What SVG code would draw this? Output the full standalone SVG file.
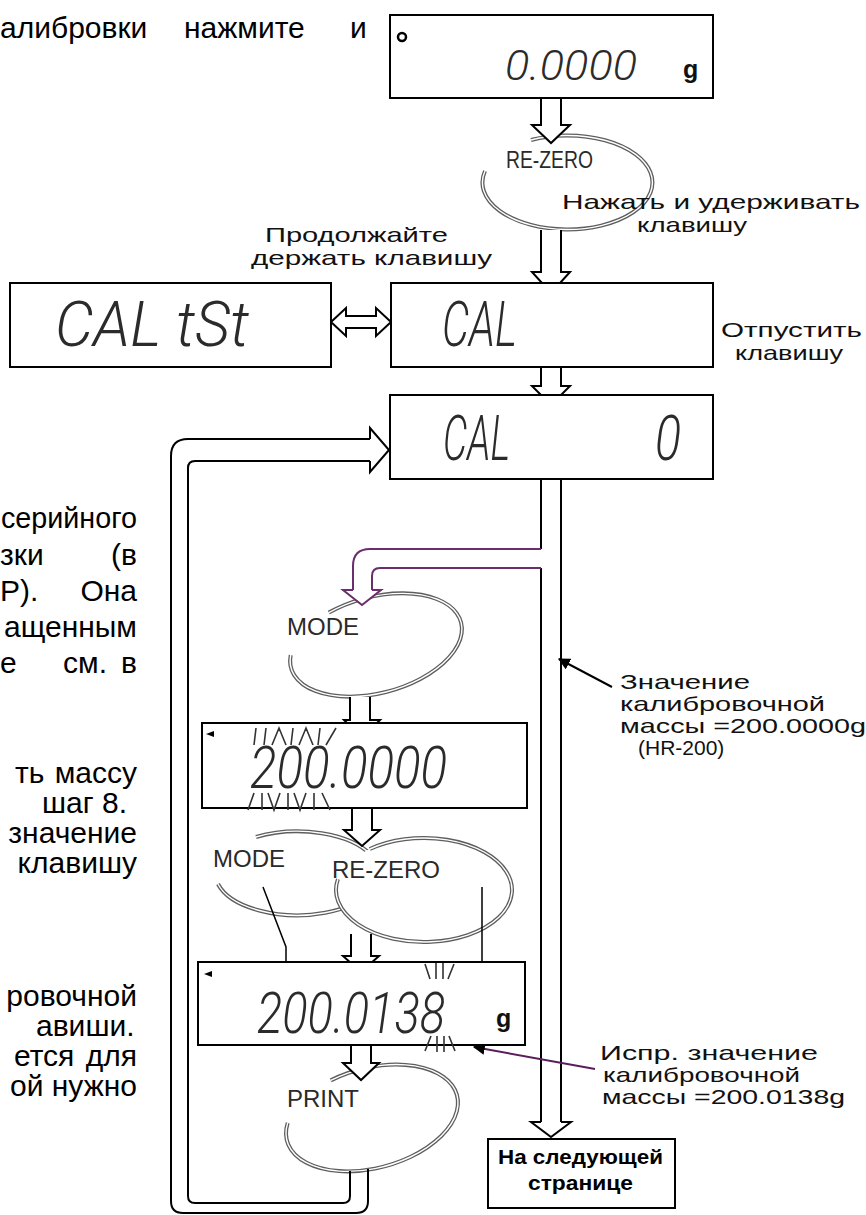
<svg xmlns="http://www.w3.org/2000/svg" width="866" height="1215" viewBox="0 0 866 1215">
<style>
.body{font-family:"Liberation Sans",Arial,sans-serif;font-size:30px;fill:#000}
.lbl{font-family:"Liberation Sans",Arial,sans-serif;font-size:21px;fill:#111}
.key{font-family:"Liberation Sans",Arial,sans-serif;font-size:24px;fill:#2a2a2a}
.seg{font-family:Roboto,"Liberation Sans",sans-serif;font-style:italic;font-weight:300;fill:#2b2b2b}
.unit{font-family:"Liberation Sans",Arial,sans-serif;font-weight:bold;font-size:25px;fill:#111}
.nxt{font-family:"Liberation Sans",Arial,sans-serif;font-weight:bold;font-size:20px;fill:#000}
.box{fill:#fff;stroke:#000;stroke-width:2}
.harrow{fill:#fff;stroke:#000;stroke-width:2;stroke-linejoin:miter}
.parrow{fill:#fff;stroke:#6b2d6b;stroke-width:2;stroke-linejoin:miter}
.dl{fill:none;stroke:#000;stroke-width:2}
.pl{fill:none;stroke:#6b2d6b;stroke-width:2}
.ring{fill:none;stroke:#5e5e5e;stroke-width:4}
.ringi{fill:none;stroke:#fff;stroke-width:1.4}
.thin{fill:none;stroke:#000;stroke-width:1.5}
.blink{fill:none;stroke:#333;stroke-width:1.6}
</style>
<defs>
<marker id="ahp" viewBox="0 0 10 10" refX="9" refY="5" markerWidth="6" markerHeight="6" orient="auto"><path d="M0,0 L10,5 L0,10 z" fill="#000"/></marker>
<marker id="sm" viewBox="0 0 10 10" refX="9" refY="5" markerWidth="5" markerHeight="5" orient="auto-start-reverse"><path d="M0,1 L10,5 L0,9 z" fill="#000"/></marker>
<path id="rz1" d="M531,140 A85,47 0 1 1 485,171"/>
<path id="md1" d="M-37.2,-43.5 A88,48 0 1 1 -85,-12.4"/>
<path id="md2" d="M256,837 A82,42 0 1 1 218,884"/>
<path id="rz2" d="M369.8,849 A88,52 0 1 1 337.9,879.2"/>
<path id="pr" d="M-30.1,-47 A88,50 0 1 1 -82.7,-17.1"/>
</defs>

<g id="left-text" class="body">
<text x="0" y="38">алибровки</text>
<text x="184" y="38">нажмите</text>
<text x="350" y="38">и</text>
<text x="1" y="528" textLength="136" lengthAdjust="spacingAndGlyphs">серийного</text>
<text x="0" y="565">зки</text><text x="137" y="565" text-anchor="end">(в</text>
<text x="0" y="601">Р).</text><text x="137" y="601" text-anchor="end">Она</text>
<text x="137" y="637" text-anchor="end">ащенным</text>
<text x="0" y="673">е</text><text x="63" y="673">см.</text><text x="137" y="673" text-anchor="end">в</text>
<text x="15" y="783">ть</text><text x="137" y="783" text-anchor="end">массу</text>
<text x="42" y="813">шаг 8.</text>
<text x="137" y="843" text-anchor="end">значение</text>
<text x="137" y="873" text-anchor="end">клавишу</text>
<text x="137" y="1006" text-anchor="end">ровочной</text>
<text x="36" y="1036">авиши.</text>
<text x="14" y="1066">ется</text><text x="137" y="1066" text-anchor="end">для</text>
<text x="10" y="1096">ой</text><text x="137" y="1096" text-anchor="end">нужно</text>
</g>

<g id="rings">
<use href="#rz1" class="ring"/><use href="#rz1" class="ringi"/>
<g transform="translate(376,645) rotate(-15)"><use href="#md1" class="ring"/><use href="#md1" class="ringi"/></g>
<use href="#md2" class="ring"/><use href="#md2" class="ringi"/>
<ellipse cx="424" cy="890" rx="88" ry="52" fill="#fff"/>
<use href="#rz2" class="ring"/><use href="#rz2" class="ringi"/>
<g transform="translate(372,1118) rotate(-15)"><use href="#pr" class="ring"/><use href="#pr" class="ringi"/></g>
</g>

<g id="connectors">
<path class="harrow" d="M541,98 V125 H532 L551,143 L570,125 H561 V98"/>
<path class="harrow" d="M541,230 V272 H532 L551,293 L570,272 H561 V230"/>
<path class="harrow" d="M331,322 L346,308 V316 H376 V308 L391,322 L376,336 V328 H346 V336 Z"/>
<path class="harrow" d="M541,367 V386 H532 L551,405 L570,386 H561 V367"/>
<path class="dl" d="M541,479 V549 M541,568 V1122 M561,479 V1122"/>
<path class="harrow" d="M541,1122 H531 L551,1137 L571,1122 H561"/>
<path class="pl" d="M541,549 H370 Q353,549 353,566 V590 M541,568 H380 Q372,568 372,576 V590"/>
<path class="parrow" d="M353,590 H343 L362,605 L381,590 H372"/>
<path class="harrow" d="M350,697 V720 H344 L362,738 L380,720 H370 V697"/>
<path class="harrow" d="M352,808 V830 H344 L362,846 L380,830 H372 V808"/>
<path class="harrow" d="M351,934 V956 H343 L361,972 L379,956 H371 V934"/>
<path class="harrow" d="M351,1045 V1063 H343 L361,1080 L379,1063 H371 V1045"/>
<path class="dl" d="M368,1169 V1201 Q368,1213 356,1213 H183 Q171,1213 171,1201 V456 Q171,439 188,439 H370"/>
<path class="dl" d="M350,1171 V1196 Q350,1203 343,1203 H195 Q188,1203 188,1196 V468 Q188,461 195,461 H370"/>
<path class="harrow" d="M370,439 V428 L389,450 L370,472 V461"/>
<path class="thin" d="M263,887 L286,947 V972"/>
<path class="thin" d="M257,972 H314" marker-start="url(#sm)" marker-end="url(#sm)"/>
<path class="thin" d="M482,887 V1002 H462"/>
<path class="thin" d="M462,980 V1030" marker-start="url(#sm)" marker-end="url(#sm)"/>
<path d="M612,687 L559,659" fill="none" stroke="#000" stroke-width="2" marker-end="url(#ahp)"/>
<path d="M595,1069 L474,1047" fill="none" stroke="#5a1e5a" stroke-width="2" marker-end="url(#ahp)"/>
</g>

<g id="n-zero">
<rect class="box" x="390" y="15" width="323" height="83"/>
<circle cx="402" cy="37" r="4" fill="none" stroke="#000" stroke-width="2.5"/>
<text class="seg" x="505" y="80" font-size="42" textLength="132" lengthAdjust="spacingAndGlyphs">0.0000</text>
<text class="unit" x="683" y="78">g</text>
</g>

<g id="n-caltst">
<rect class="box" x="10" y="283" width="321" height="84"/>
<text class="seg" x="55" y="346" font-size="62" textLength="194" lengthAdjust="spacingAndGlyphs">CAL tSt</text>
</g>

<g id="n-cal">
<rect class="box" x="391" y="283" width="322" height="84"/>
<text class="seg" x="442" y="346" font-size="62" textLength="75" lengthAdjust="spacingAndGlyphs">CAL</text>
</g>

<g id="n-cal0">
<rect class="box" x="390" y="395" width="323" height="84"/>
<text class="seg" x="443" y="460" font-size="62" textLength="67" lengthAdjust="spacingAndGlyphs">CAL</text>
<text class="seg" x="655" y="460" font-size="62" textLength="26" lengthAdjust="spacingAndGlyphs">0</text>
</g>

<g id="n-mass">
<rect class="box" x="202" y="723" width="325" height="85"/>
<path d="M214,731 L206,734 L214,737 Z" fill="#000"/>
<path class="blink" d="M256,728 L254,745 M266,728 L264,745 M272,745 L279,728 L286,745 M293,728 L291,745 M299,745 L306,728 L313,745 M320,728 L318,745 M326,745 L336,728"/>
<text class="seg" x="250" y="788" font-size="60" textLength="197" lengthAdjust="spacingAndGlyphs">200.0000</text>
<path class="blink" d="M254,793 L248,810 M262,793 L262,810 M268,793 L274,810 L280,793 M288,793 L288,810 M294,793 L300,810 L306,793 M314,793 L314,810 M322,793 L330,810"/>
</g>

<g id="n-corr">
<rect class="box" x="198" y="962" width="327" height="83"/>
<path d="M212,971 L204,974 L212,977 Z" fill="#000"/>
<path class="blink" d="M425,964 L430,979 M436,963 L436,979 M443,963 L443,979 M454,964 L448,979 M425,1051 L431,1036 M437,1052 L437,1036 M444,1052 L444,1036 M455,1051 L449,1036"/>
<text class="seg" x="257" y="1033" font-size="58" textLength="188" lengthAdjust="spacingAndGlyphs">200.0138</text>
<text class="unit" x="496" y="1027">g</text>
</g>

<g id="n-next">
<rect class="box" x="488" y="1139" width="187" height="69"/>
<text class="nxt" x="498" y="1164" textLength="165" lengthAdjust="spacingAndGlyphs">На следующей</text>
<text class="nxt" x="528" y="1190" textLength="105" lengthAdjust="spacingAndGlyphs">странице</text>
</g>

<g id="keys">
<text class="key" x="506" y="168" font-size="21" textLength="87" lengthAdjust="spacingAndGlyphs">RE-ZERO</text>
<text class="key" x="287" y="635">MODE</text>
<text class="key" x="213" y="867">MODE</text>
<text class="key" x="332" y="878">RE-ZERO</text>
<text class="key" x="287" y="1107">PRINT</text>
</g>

<g id="labels" class="lbl">
<text x="562" y="209" textLength="298" lengthAdjust="spacingAndGlyphs">Нажать и удерживать</text>
<text x="637" y="232" textLength="110" lengthAdjust="spacingAndGlyphs">клавишу</text>
<text x="265" y="242" textLength="183" lengthAdjust="spacingAndGlyphs">Продолжайте</text>
<text x="251" y="265" textLength="241" lengthAdjust="spacingAndGlyphs">держать клавишу</text>
<text x="721" y="337" textLength="141" lengthAdjust="spacingAndGlyphs">Отпустить</text>
<text x="735" y="360" textLength="108" lengthAdjust="spacingAndGlyphs">клавишу</text>
<text x="620" y="689" textLength="130" lengthAdjust="spacingAndGlyphs">Значение</text>
<text x="620" y="711" textLength="205" lengthAdjust="spacingAndGlyphs">калибровочной</text>
<text x="620" y="733" textLength="246" lengthAdjust="spacingAndGlyphs">массы =200.0000g</text>
<text x="638" y="755">(HR-200)</text>
<text x="600" y="1060" textLength="218" lengthAdjust="spacingAndGlyphs">Испр.  значение</text>
<text x="603" y="1082" textLength="197" lengthAdjust="spacingAndGlyphs">калибровочной</text>
<text x="602" y="1104" textLength="243" lengthAdjust="spacingAndGlyphs">массы =200.0138g</text>
</g>
</svg>
